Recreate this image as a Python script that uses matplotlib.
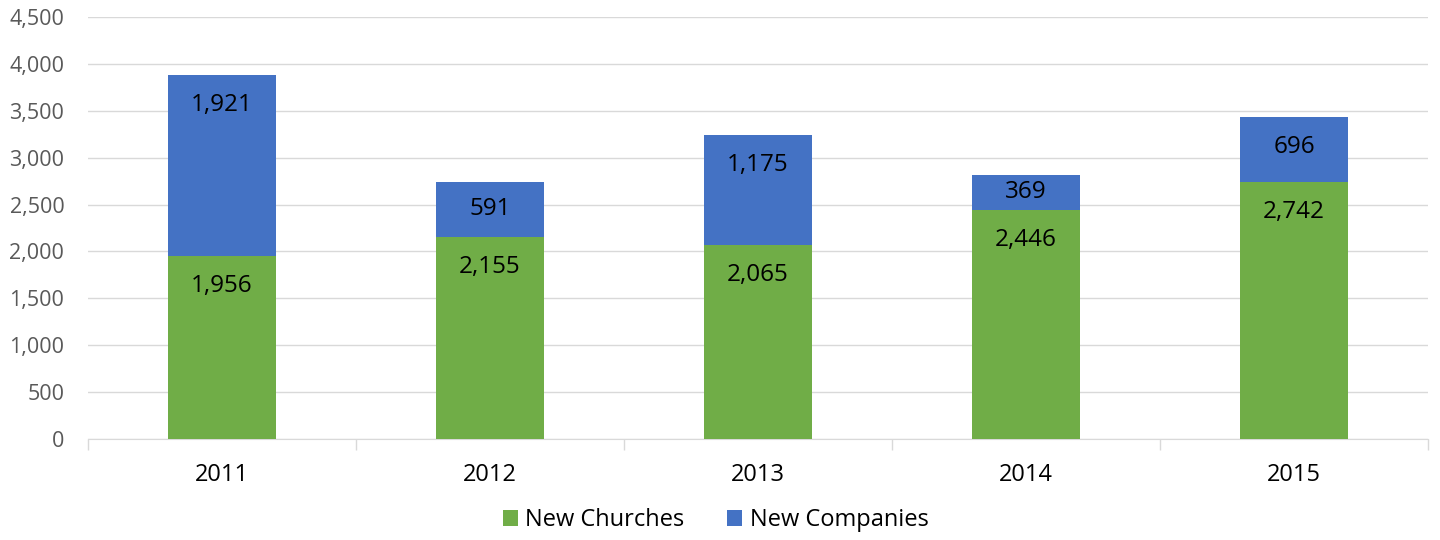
import matplotlib
matplotlib.use('Agg')
import matplotlib.pyplot as plt
import numpy as np

plt.rcParams['font.family'] = ['Open Sans', 'DejaVu Sans']

years = ['2011', '2012', '2013', '2014', '2015']
churches = [1956, 2155, 2065, 2446, 2742]
companies = [1921, 591, 1175, 369, 696]

green = '#70AD47'
blue = '#4472C4'

fig = plt.figure(figsize=(14.4, 5.4), dpi=100)
ax = fig.add_axes([0.0611, 0.187, 0.9306, 0.7815])

x = np.arange(len(years))
w = 0.40
b1 = ax.bar(x, churches, w, color=green, label='New Churches', zorder=3)
b2 = ax.bar(x, companies, w, bottom=churches, color=blue, label='New Companies', zorder=3)

# labels sit "inside end": ~30 px below each segment's top (centred if the segment is short)
off = 320
for i in range(len(years)):
    top1 = churches[i]
    ax.text(x[i], top1 - min(off, churches[i] / 2), f'{churches[i]:,}', ha='center',
            va='center', fontsize=17.5, color='black', zorder=4)
    top2 = churches[i] + companies[i]
    ax.text(x[i], top2 - min(off, companies[i] / 2), f'{companies[i]:,}', ha='center',
            va='center', fontsize=17.5, color='black', zorder=4)

ax.set_xlim(-0.5, len(years) - 0.5)
ax.set_ylim(0, 4500)
ax.set_yticks(range(0, 4501, 500))
ax.set_yticklabels([f'{v:,}' for v in range(0, 4501, 500)], fontsize=15.5, color='#595959')
ax.yaxis.grid(True, color='#D9D9D9', linewidth=1, zorder=0)
ax.tick_params(axis='y', length=0, pad=17)

ax.set_xticks(x)
ax.set_xticklabels(years, fontsize=17, color='black')
ax.tick_params(axis='x', length=0, pad=17)
ax.set_xticks(np.arange(-0.5, len(years), 1), minor=True)
ax.tick_params(axis='x', which='minor', length=8, color='#D9D9D9', width=1)

for s in ['top', 'right', 'left']:
    ax.spines[s].set_visible(False)
ax.spines['bottom'].set_color('#D9D9D9')

fig.legend(handles=[b1, b2], loc='lower center', bbox_to_anchor=(0.497, -0.025), ncol=2,
           frameon=False, fontsize=17, handlelength=0.65, handleheight=0.65,
           columnspacing=1.8, handletextpad=0.3)

fig.savefig('out.png', dpi=100)
